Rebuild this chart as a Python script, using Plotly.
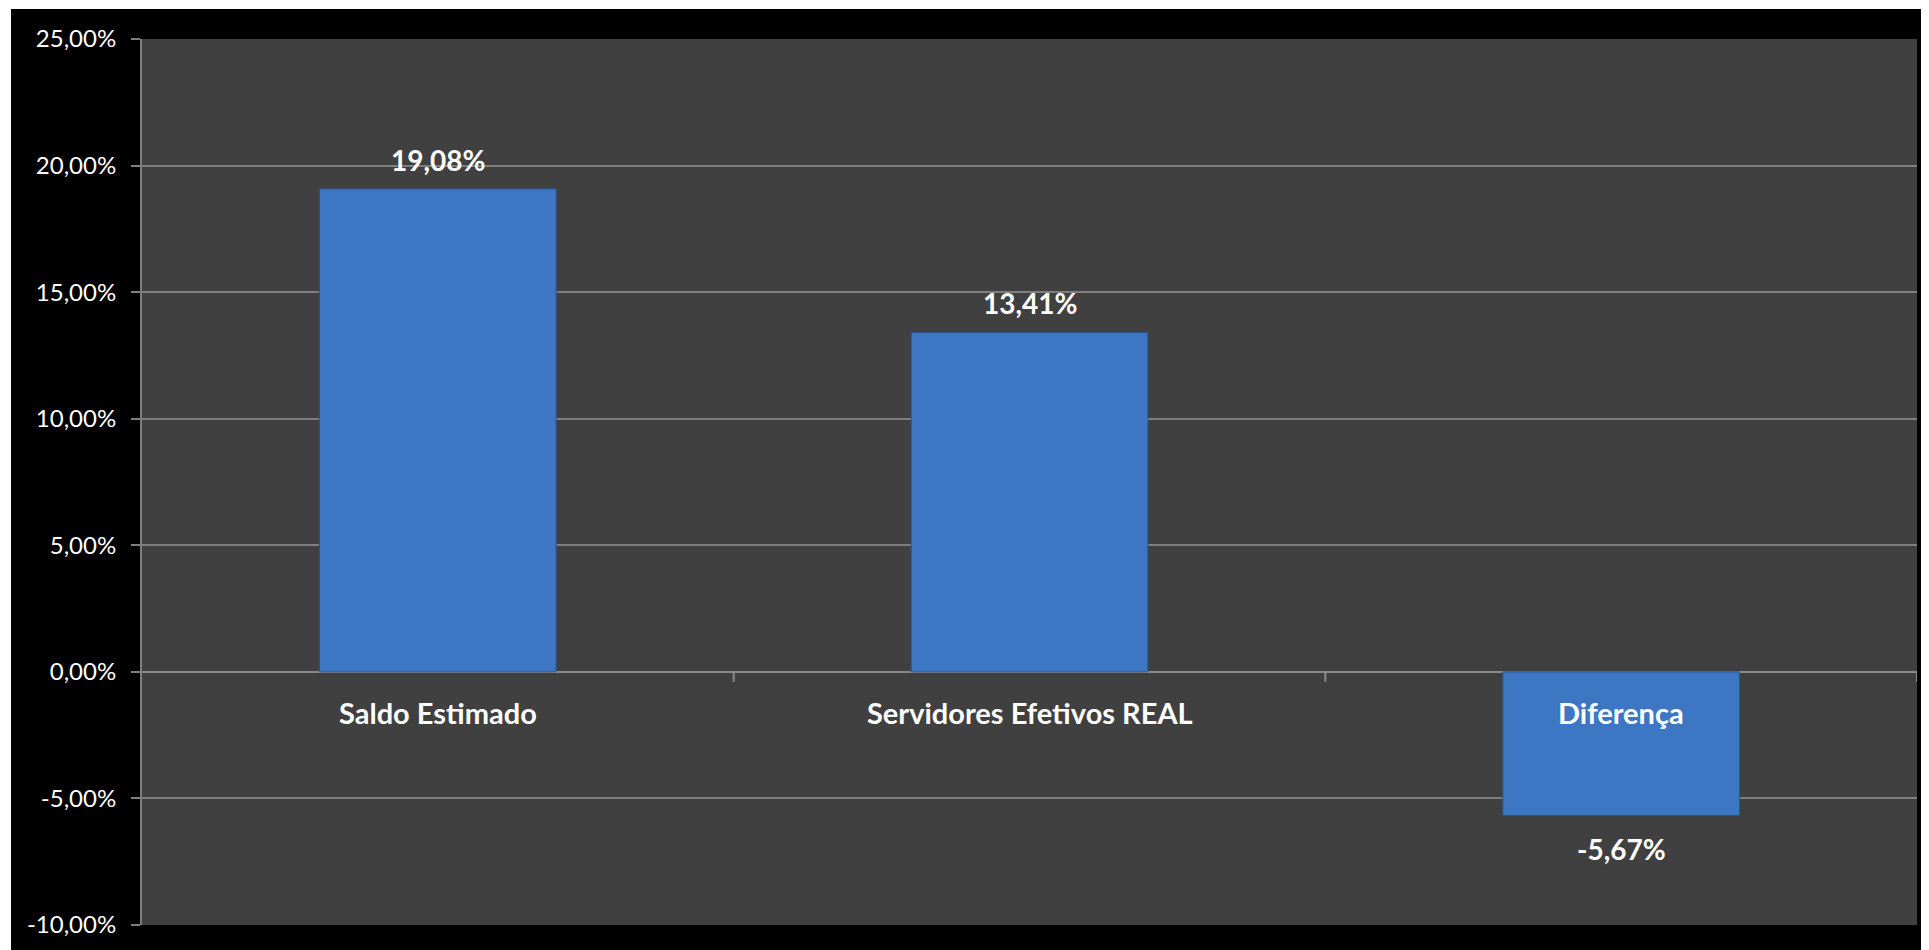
import plotly.graph_objects as go

categories = ["Saldo Estimado", "Servidores Efetivos REAL", "Diferença"]
values = [19.08, 13.41, -5.67]
value_labels = ["19,08%", "13,41%", "-5,67%"]
y_ticks = [-10, -5, 0, 5, 10, 15, 20, 25]
y_tick_labels = ["-10,00%", "-5,00%", "0,00%", "5,00%", "10,00%", "15,00%", "20,00%", "25,00%"]

# the page body adds an 8px offset; figure sized so it ends at the window edge
W, H = 1921, 942
L, R, T, B = 134, 12, 31, 25
PW, PH = W - L - R, H - T - B

def px_x(p):
    return (p - L) / PW

def px_y(p):
    return (H - B - p) / PH

FONT = "Lato, 'Open Sans', sans-serif"

fig = go.Figure()
fig.add_trace(go.Bar(
    x=categories, y=values, width=0.4,
    marker=dict(color="#3d77c4", line=dict(color="#2a5490", width=1)),
    hoverinfo="skip",
))

annotations = []
for c, v, t in zip(categories, values, value_labels):
    annotations.append(dict(
        x=c, y=v, xref="x", yref="y", text=t, showarrow=False,
        yshift=29 if v >= 0 else -34,
        font=dict(family=FONT, size=28, color="white", weight="bold"),
    ))
    annotations.append(dict(
        x=c, y=0, xref="x", yref="y", text=c, showarrow=False,
        yshift=-41,
        font=dict(family=FONT, size=29, color="white", weight="bold"),
    ))

shapes = []
# x-axis tick marks on the zero line at category boundaries
for i in range(len(categories)):
    shapes.append(dict(
        type="line", xref="x", yref="y", ysizemode="pixel", yanchor=0,
        x0=i + 0.5, x1=i + 0.5, y0=0, y1=-10,
        line=dict(color="#8a8a8a", width=2),
    ))
# thin white margins at top and left of the picture
shapes.append(dict(type="rect", xref="paper", yref="paper",
                   x0=px_x(0), x1=px_x(3), y0=px_y(H), y1=px_y(0),
                   fillcolor="white", line=dict(width=0), layer="above"))
shapes.append(dict(type="rect", xref="paper", yref="paper",
                   x0=px_x(0), x1=px_x(W), y0=px_y(1), y1=px_y(0),
                   fillcolor="white", line=dict(width=0), layer="above"))

fig.update_layout(
    width=W, height=H,
    margin=dict(l=L, r=R, t=T, b=B, pad=0),
    paper_bgcolor="black",
    plot_bgcolor="#404040",
    showlegend=False,
    annotations=annotations,
    shapes=shapes,
    xaxis=dict(
        range=[-0.5, len(categories) - 0.5],
        showticklabels=False, showgrid=False, zeroline=False,
        showline=False, ticks="",
    ),
    yaxis=dict(
        range=[y_ticks[0], y_ticks[-1]],
        tickvals=y_ticks, ticktext=y_tick_labels,
        showgrid=True, gridcolor="#7f7f7f", gridwidth=1.5,
        zeroline=True, zerolinecolor="#8a8a8a", zerolinewidth=2,
        showline=True, linecolor="#7f7f7f", linewidth=2,
        ticks="outside", ticklen=9, tickcolor="#7f7f7f", tickwidth=2,
        ticklabelstandoff=10,
        tickfont=dict(family=FONT, size=24, color="white"),
    ),
)

fig.write_html("out.html")
